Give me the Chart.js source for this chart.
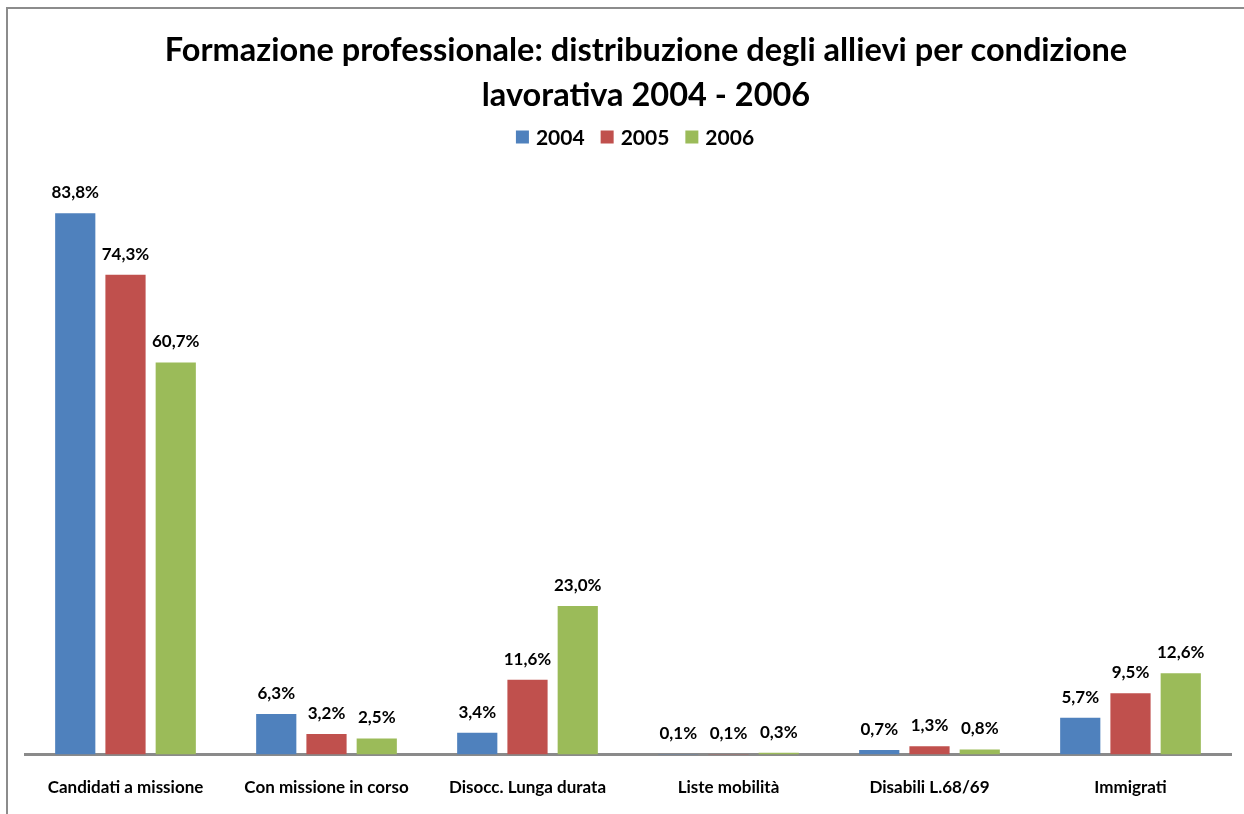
<!DOCTYPE html>
<html>
<head>
<meta charset="utf-8">
<script src="https://cdn.jsdelivr.net/npm/chart.js@4/dist/chart.umd.min.js"></script>
<style>
  html, body { margin: 0; padding: 0; background: #fff; }
  #wrap { position: relative; width: 1244px; height: 814px; }
  #frame { position: absolute; left: 6px; top: 7px; width: 1300px; height: 900px;
           border-left: 2px solid #8c8c8c; border-top: 2px solid #8c8c8c; }
  canvas { position: absolute; left: 0; top: 0; }
</style>
</head>
<body>
<div id="wrap">
  <div id="frame"></div>
  <canvas id="c" width="1244" height="814"></canvas>
</div>
<script>
const categories = ["Candidati a missione", "Con missione in corso", "Disocc. Lunga durata", "Liste mobilità", "Disabili L.68/69", "Immigrati"];
const seriesNames = ["2004", "2005", "2006"];
const values2004 = [83.8, 6.3, 3.4, 0.1, 0.7, 5.7];
const values2005 = [74.3, 3.2, 11.6, 0.1, 1.3, 9.5];
const values2006 = [60.7, 2.5, 23.0, 0.3, 0.8, 12.6];
const colors = ["#4F81BD", "#C0504D", "#9BBB59"];
const titleLines = ["Formazione professionale: distribuzione degli allievi per condizione", "lavorativa 2004 - 2006"];

const FONT = "Lato, 'Open Sans', sans-serif";
const TITLE_SIZE = 32.5, TITLE_LH = 45, TITLE_TOP = 28, TITLE_CX = 646;
const LEGEND_CX = 635, LEGEND_CY = 137, LEGEND_BOX = 13, LEGEND_SIZE = 21;

const overlay = {
  id: 'overlay',
  afterDatasetsDraw(chart) {
    const ctx = chart.ctx;
    ctx.save();
    // value labels
    ctx.font = "bold 17px " + FONT;
    ctx.fillStyle = "#000";
    ctx.textAlign = "center";
    ctx.textBaseline = "bottom";
    chart.data.datasets.forEach((ds, i) => {
      const meta = chart.getDatasetMeta(i);
      meta.data.forEach((bar, j) => {
        const v = ds.data[j];
        const txt = v.toFixed(1).replace('.', ',') + '%';
        ctx.fillText(txt, bar.x, bar.y - 12);
      });
    });
    ctx.restore();
  },
  afterDraw(chart) {
    const ctx = chart.ctx;
    ctx.save();
    // title
    ctx.font = "bold " + TITLE_SIZE + "px " + FONT;
    ctx.fillStyle = "#000";
    ctx.textAlign = "center";
    ctx.textBaseline = "middle";
    titleLines.forEach((t, i) => ctx.fillText(t, TITLE_CX, TITLE_TOP + TITLE_LH * (i + 0.5)));
    // legend
    ctx.font = "bold " + LEGEND_SIZE + "px " + FONT;
    ctx.textAlign = "left";
    const gapBoxText = 7, gapItems = 16;
    const widths = seriesNames.map(s => LEGEND_BOX + gapBoxText + ctx.measureText(s).width);
    const total = widths.reduce((a, b) => a + b, 0) + gapItems * (seriesNames.length - 1);
    let x = LEGEND_CX - total / 2;
    seriesNames.forEach((s, i) => {
      ctx.fillStyle = colors[i];
      ctx.fillRect(x, LEGEND_CY - LEGEND_BOX / 2, LEGEND_BOX, LEGEND_BOX);
      ctx.fillStyle = "#000";
      ctx.fillText(s, x + LEGEND_BOX + gapBoxText, LEGEND_CY + 1);
      x += widths[i] + gapItems;
    });
    ctx.restore();
  }
};

new Chart(document.getElementById('c'), {
  type: 'bar',
  data: {
    labels: categories,
    datasets: [
      { label: seriesNames[0], data: values2004, backgroundColor: colors[0] },
      { label: seriesNames[1], data: values2005, backgroundColor: colors[1] },
      { label: seriesNames[2], data: values2006, backgroundColor: colors[2] }
    ]
  },
  options: {
    responsive: false,
    animation: false,
    devicePixelRatio: 1,
    layout: { padding: { left: 25, right: 13, top: 0, bottom: 0 } },
    datasets: { bar: { categoryPercentage: 0.75, barPercentage: 0.8 } },
    plugins: {
      title: {
        display: true,
        text: titleLines,
        color: 'rgba(0,0,0,0)',
        font: { family: FONT, size: TITLE_SIZE, weight: 'bold', lineHeight: TITLE_LH / TITLE_SIZE },
        padding: { top: TITLE_TOP, bottom: 41 }
      },
      legend: { display: false },
      tooltip: { enabled: false }
    },
    scales: {
      x: {
        grid: { display: false, drawTicks: false },
        border: { display: true, color: '#8a8a8a', width: 3 },
        ticks: { color: '#000', font: { family: FONT, size: 17, weight: 'bold' }, padding: 23, maxRotation: 0 },
        afterFit(scale) { scale.height -= 7; }
      },
      y: {
        display: false,
        min: 0,
        max: 92.2
      }
    }
  },
  plugins: [overlay]
});
</script>
</body>
</html>
